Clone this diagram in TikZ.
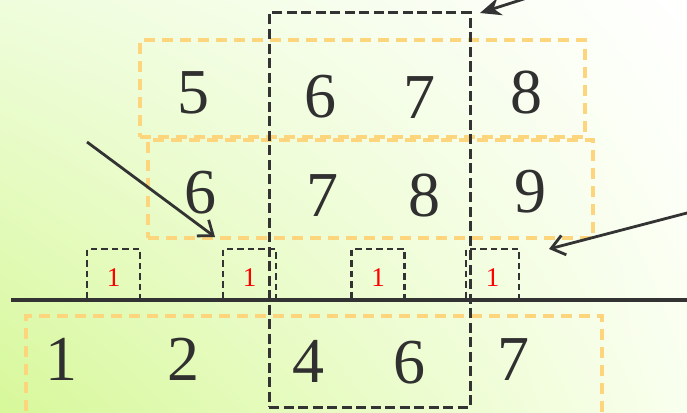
\documentclass[tikz,border=0pt]{standalone}
\usepackage{fontspec}
\setmainfont{Liberation Serif}
\usetikzlibrary{arrows.meta,positioning,shadings}
\definecolor{Dash_Dark}{HTML}{333333}
\definecolor{Dash_Gold}{HTML}{FCD57D}
\definecolor{Lime_Light}{HTML}{D7F89A}
\definecolor{Lime_Pale}{HTML}{EFFDDC}
\definecolor{Lime_Mist}{HTML}{F9FFEE}
\definecolor{Digit_Gray}{HTML}{303030}

\begin{document}
\begin{tikzpicture}[x=1pt, y=-1pt,
    digit/.style={font=\fontsize{64}{64}\selectfont, text=Digit_Gray, anchor=base, inner sep=0pt},
    goldbox/.style={draw=Dash_Gold, line width=3.2pt, dash pattern=on 11pt off 7pt, inner sep=0pt},
    darkbox/.style={draw=Dash_Dark, line width=3pt, dash pattern=on 10pt off 4.5pt, inner sep=0pt},
    unitbox/.style={draw=Dash_Dark, line width=2.2pt, dash pattern=on 6.5pt off 4pt, inner sep=0pt,
        minimum width=53pt, minimum height=51pt, text=red,
        font=\fontsize{27}{27}\selectfont, text height=23pt, text depth=0pt},
    pointer/.style={draw=Dash_Dark, line width=2.8pt}]

    % Background
    \useasboundingbox (0,0) rectangle (687,412);
    \clip (0,0) rectangle (687,412);
    \shade[lower left=Lime_Light, upper left=Lime_Pale, upper right=white, lower right=Lime_Mist]
        (0,0) rectangle (687,412);

    % Window boxes
    \node[goldbox, minimum width=445pt, minimum height=97pt] (winA) at (362.5,88.5) {};
    \node[goldbox, minimum width=445pt, minimum height=98pt] (winB) at (370.5,189) {};
    \node[goldbox, minimum width=576pt, minimum height=114pt] (winC) at (314,373) {};
    \node[darkbox, minimum width=201pt, minimum height=394pt] (slice) at (369.5,210) {};

    % First window
    \node[digit] (a5) at (193,113) {5};
    \node[digit] (a6) at (320,117) {6};
    \node[digit] (a7) at (419,118) {7};
    \node[digit] (a8) at (526,113) {8};

    % Second window
    \node[digit] (b6) at (200,213) {6};
    \node[digit] (b7) at (322,216) {7};
    \node[digit] (b8) at (424,216) {8};
    \node[digit] (b9) at (530,212) {9};

    % Bottom row
    \node[digit] (c1) at (61,380) {1};
    \node[digit] (c2) at (183,380) {2};
    \node[digit] (c4) at (308,382) {4};
    \node[digit] (c6) at (409,383) {6};
    \node[digit] (c7) at (513,380) {7};

    % Unit steps
    \foreach \name/\x in {u1/113.5, u2/249.5, u3/378, u4/492.5}
        \node[unitbox] (\name) at (\x,274.5) {1};

    % Axis
    \coordinate (axisL) at (11,300);
    \coordinate (axisR) at (690,300);
    \draw[draw=Dash_Dark, line width=3.2pt] (axisL) -- (axisR);

    % Pointers
    \coordinate (topTail) at (530,-3);
    \coordinate (topTip) at (480,13);
    \draw[pointer, -{Stealth[length=21pt, width=18pt]}] (topTail) -- (topTip);

    \coordinate (leftTail) at (87,142);
    \coordinate (leftTip) at (215,237);
    \draw[pointer, -{Straight Barb[length=13pt, width=20pt]}] (leftTail) -- (leftTip);

    \coordinate (rightTail) at (700,209.6);
    \coordinate (rightTip) at (549,249);
    \draw[pointer, -{Straight Barb[length=13pt, width=20pt]}] (rightTail) -- (rightTip);

\end{tikzpicture}
\end{document}
